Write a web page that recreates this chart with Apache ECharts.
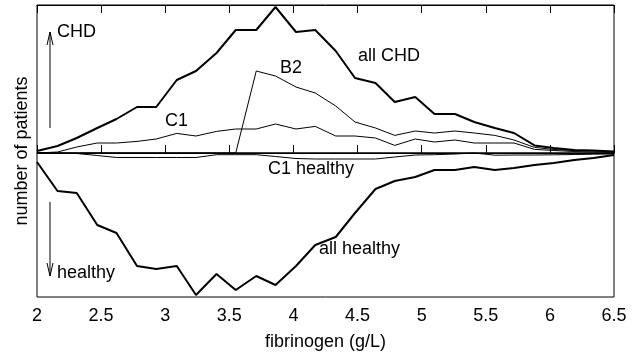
<!DOCTYPE html>
<html><head><meta charset="utf-8">
<script src="https://cdn.jsdelivr.net/npm/echarts@6/dist/echarts.min.js"></script>
<style>html,body{margin:0;padding:0;background:#fff}#c{width:642px;height:359px}</style>
</head><body><div id="c"></div>
<script>
const fibrinogen = [2.00, 2.16, 2.31, 2.47, 2.62, 2.78, 2.93, 3.09, 3.24, 3.40, 3.55, 3.71, 3.86, 4.02, 4.17, 4.33, 4.48, 4.64, 4.79, 4.95, 5.10, 5.26, 5.41, 5.57, 5.72, 5.88, 6.03, 6.19, 6.34, 6.50];
const allCHD = [2, 7, 15, 25, 34, 46, 46, 73, 82, 100, 123, 123, 146, 121, 123, 102, 75, 70, 51, 56, 39, 39, 31, 25, 20, 7.6, 5, 3, 2.5, 1.5];
const B2 = [0, 0, 0, 0, 0, 0, 0, 0, 0, 0, 0, 82, 77, 66, 60, 47, 31, 25, 17.6, 22, 20, 22, 20, 17.6, 13, 5.6, 3.5, 2.5, 2, 1];
const C1 = [0, 1, 6, 10, 10, 11.6, 14, 19.6, 17, 21.6, 24, 24, 29, 24, 26.6, 17, 17, 15, 7.6, 14, 11, 13, 10, 10, 10, 3.6, 2.5, 1.5, 1, 0.5];
const C1healthy = [0, 0, -0.5, -2.5, -4.5, -4.5, -4.5, -4.5, -4.5, -1.7, -1.7, -1.7, -3.5, -5.5, -6, -6, -6, -6, -4, -2, -1.7, -1, 0, -2.2, -2, -2, -1.8, -1.5, -1.2, -1];
const allHealthy = [-9, -38, -40, -72, -80, -113, -116, -113, -142, -121, -137, -123, -132, -113, -92, -84, -60, -36, -28, -24, -17, -17, -14, -17, -15, -12, -10, -7, -5, -2];
const xTickMin = 2, xTickMax = 6.5, xTickStep = 0.5;

const FONT = "'Liberation Sans', Arial, sans-serif";
const pairs = ys => fibrinogen.map((x, i) => [x, ys[i]]);
const mk = (name, ys, w, extra) => Object.assign({
  name, type: 'line', data: pairs(ys), symbol: 'none', showSymbol: false, silent: true,
  lineStyle: { color: '#000', width: w }, itemStyle: { color: '#000' },
  emphasis: { disabled: true }, z: 3
}, extra || {});

const chart = echarts.init(document.getElementById('c'), null, { renderer: 'canvas' });
const txt = (t, x, y) => ({ type: 'text', left: x, top: y - 10, style: { text: t, fontSize: 18, fontFamily: FONT, fill: '#000' }, silent: true });
chart.setOption({
  animation: false,
  backgroundColor: '#fff',
  textStyle: { fontFamily: FONT },
  grid: { left: 37, right: 28, top: 5, bottom: 62, show: true, borderColor: '#000', borderWidth: 1, containLabel: false, outerBoundsMode: 'none' },
  xAxis: [{
    type: 'value', min: xTickMin, max: xTickMax, interval: xTickStep, position: 'bottom',
    axisLine: { show: true, lineStyle: { color: '#000', width: 1 } },
    axisTick: { show: true, inside: true, length: 8, lineStyle: { color: '#000' } },
    axisLabel: { show: true, fontSize: 18, color: '#000', margin: 10, fontFamily: FONT },
    splitLine: { show: false },
    name: 'fibrinogen (g/L)', nameLocation: 'middle', nameGap: 36,
    nameTextStyle: { fontSize: 18, color: '#000', fontFamily: FONT }
  }, {
    type: 'value', min: xTickMin, max: xTickMax, interval: xTickStep, position: 'top',
    axisLine: { show: true, lineStyle: { color: '#000', width: 1 } },
    axisTick: { show: true, inside: true, length: 8, lineStyle: { color: '#000' } },
    axisLabel: { show: false }, splitLine: { show: false }
  }],
  yAxis: {
    type: 'value', min: -144, max: 148,
    axisLine: { show: false }, axisTick: { show: false }, axisLabel: { show: false }, splitLine: { show: false },
    name: 'number of patients', nameLocation: 'middle', nameGap: 6,
    nameTextStyle: { fontSize: 18, color: '#000', fontFamily: FONT }
  },
  series: [
    mk('all CHD', allCHD, 2, {
      markLine: { silent: true, symbol: 'none', label: { show: false }, animation: false,
        lineStyle: { color: '#000', width: 1.5, type: 'solid' }, data: [{ yAxis: 0 }] }
    }),
    mk('B2', B2, 1),
    mk('C1', C1, 1),
    mk('C1 healthy', C1healthy, 1),
    mk('all healthy', allHealthy, 2)
  ],
  graphic: [
    txt('CHD', 57, 33),
    txt('healthy', 57, 274),
    txt('C1', 165, 122),
    txt('B2', 280, 69),
    txt('all CHD', 358, 57),
    txt('C1 healthy', 268, 170),
    txt('all healthy', 319, 250),
    { type: 'line', shape: { x1: 50, y1: 128, x2: 50, y2: 32 }, style: { stroke: '#000', lineWidth: 1 }, silent: true },
    { type: 'polyline', shape: { points: [[47, 45], [50, 32], [53, 45]] }, style: { stroke: '#000', lineWidth: 1, fill: null }, silent: true },
    { type: 'line', shape: { x1: 50, y1: 202, x2: 50, y2: 276 }, style: { stroke: '#000', lineWidth: 1 }, silent: true },
    { type: 'polyline', shape: { points: [[47, 263], [50, 276], [53, 263]] }, style: { stroke: '#000', lineWidth: 1, fill: null }, silent: true }
  ]
});
</script></body></html>
